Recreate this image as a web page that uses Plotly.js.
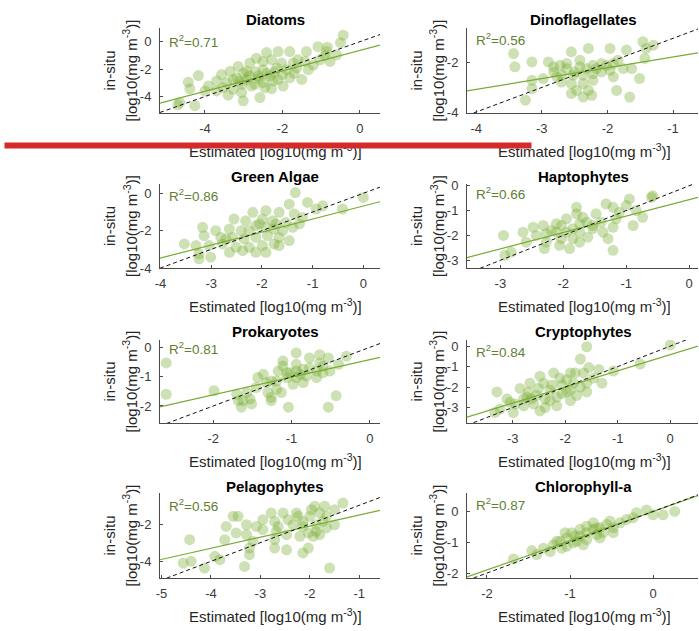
<!DOCTYPE html>
<html><head><meta charset="utf-8">
<script src="https://cdn.plot.ly/plotly-3.0.1.min.js"></script>
<style>html,body{margin:0;padding:0;background:#fff}#chart{width:699px;height:631px}</style>
</head><body><div id="chart"></div>
<script>
// ---------- DATA ----------
const panelNames = ['Diatoms','Dinoflagellates','Green Algae','Haptophytes','Prokaryotes','Cryptophytes','Pelagophytes','Chlorophyll-a'];
const r2Values = ['0.71','0.56','0.86','0.66','0.81','0.84','0.56','0.87'];
const fitSlopes = [0.746, 0.44, 0.696, 0.66, 0.60, 0.79, 0.593, 0.95];
const fitIntercepts = [-0.63, -1.32, -0.68, -0.56, -0.42, -0.42, -0.93, 0.0];

// [estimated, in-situ] pairs, log10(mg m^-3)
const diatoms = [[-0.43,0.48],[-0.5,-0.07],[-0.84,-0.4],[-1.08,-0.36],[-1.38,-0.72],[-1.81,-0.72],[-2.11,-0.72],[-2.41,-0.79],[-1.42,-1.44],[-1.03,-1.32],[-0.86,-0.72],[-0.77,-1.44],[-0.6,-0.96],[-1.72,-1.56],[-2.02,-1.56],[-2.28,-1.32],[-2.67,-1.2],[-2.84,-1.56],[-3.14,-1.8],[-3.35,-2.16],[-2.92,-2.16],[-2.5,-2.04],[-2.15,-1.92],[-1.89,-2.04],[-1.63,-1.92],[-1.33,-2.04],[-2.62,-2.51],[-2.32,-2.51],[-2.11,-2.75],[-1.81,-2.63],[-3.18,-2.63],[-2.92,-2.75],[-3.44,-2.99],[-3.7,-2.87],[-3.91,-3.23],[-4.17,-2.47],[-4.43,-2.95],[-4.39,-3.43],[-4.0,-3.59],[-3.7,-3.59],[-3.53,-3.35],[-3.27,-3.47],[-3.05,-3.71],[-3.01,-4.31],[-2.58,-4.07],[-2.28,-3.43],[-2.45,-3.35],[-1.98,-3.23],[-4.65,-4.43],[-4.26,-4.67],[-2.71,-3.11],[-3.27,-2.75],[-3.57,-2.4],[-2.5,-2.99],[-1.5,-2.75],[-2.5,-1.44],[-3.05,-3.11],[-2.8,-3.23],[-2.24,-2.87],[-3.0,-2.3],[-2.85,-2.5],[-2.7,-2.2],[-2.4,-2.3],[-2.2,-2.2],[-3.1,-2.9],[-2.6,-2.7],[-2.0,-2.4],[-1.2,-1.7],[-1.6,-1.3],[-0.9,-1.0],[-4.7,-4.6],[-3.4,-3.9],[-1.7,-2.3]];
const dinoflagellates = [[-3.43,-1.62],[-3.41,-2.16],[-3.15,-1.96],[-2.9,-1.96],[-2.82,-2.37],[-2.55,-1.55],[-2.29,-1.41],[-1.96,-1.41],[-1.71,-1.48],[-1.46,-1.14],[-1.41,-1.41],[-1.43,-1.82],[-1.84,-1.89],[-1.76,-2.23],[-1.63,-2.23],[-1.51,-2.64],[-1.86,-3.12],[-1.66,-3.39],[-2.22,-2.1],[-2.09,-2.03],[-2.42,-2.16],[-2.62,-2.23],[-2.7,-2.5],[-2.52,-2.5],[-2.37,-2.5],[-2.22,-2.44],[-2.7,-2.78],[-2.55,-2.84],[-2.37,-2.84],[-2.47,-3.12],[-2.29,-3.12],[-2.24,-3.32],[-2.37,-3.39],[-3.15,-3.05],[-3.25,-3.52],[-2.55,-3.25],[-2.09,-2.37],[-1.96,-2.3],[-1.91,-2.03],[-2.82,-2.16],[-2.72,-2.1],[-2.62,-2.03],[-2.42,-1.89],[-2.32,-2.23],[-2.17,-2.23],[-2.01,-2.1],[-2.5,-2.37],[-2.77,-2.57],[-2.98,-2.64],[-3.15,-2.71],[-1.3,-1.28],[-2.22,-2.71],[-1.91,-2.57]];
const greenAlgae = [[-1.34,0.04],[0.0,-0.22],[-1.1,-0.49],[-1.46,-0.58],[-0.93,-0.84],[-0.41,-0.84],[-1.92,-0.93],[-2.18,-1.02],[-1.66,-1.02],[-1.36,-1.11],[-1.2,-1.29],[-2.55,-1.38],[-2.32,-1.47],[-1.99,-1.38],[-1.79,-1.47],[-1.53,-1.56],[-1.26,-1.64],[-3.17,-1.82],[-2.91,-2.0],[-2.64,-1.91],[-2.41,-2.0],[-2.12,-1.73],[-1.92,-1.82],[-1.76,-1.91],[-1.59,-2.0],[-1.39,-1.82],[-3.14,-2.27],[-2.81,-2.36],[-2.58,-2.36],[-2.35,-2.44],[-2.12,-2.36],[-1.89,-2.27],[-1.66,-2.36],[-1.46,-2.53],[-3.53,-2.71],[-3.3,-2.8],[-3.04,-2.8],[-2.78,-2.71],[-2.51,-2.89],[-2.25,-2.89],[-1.99,-2.8],[-1.76,-2.71],[-3.24,-3.24],[-3.01,-3.42],[-2.64,-3.16],[-2.38,-3.07],[-1.92,-3.16],[-2.12,-3.16],[-1.66,-2.8],[-3.24,-3.51],[-0.8,-0.67],[-2.05,-1.64],[-1.72,-1.64],[-2.25,-2.0],[-2.71,-2.44]];
const haptophytes = [[-0.6,-0.47],[-0.95,-0.53],[-1.0,-0.8],[-1.21,-0.87],[-1.32,-0.73],[-0.84,-1.0],[-0.74,-1.27],[-0.89,-1.6],[-1.16,-1.33],[-1.48,-1.13],[-1.63,-1.47],[-1.79,-1.13],[-1.95,-1.33],[-1.74,-1.53],[-1.85,-1.73],[-2.11,-1.53],[-2.32,-1.6],[-2.48,-1.67],[-1.53,-1.73],[-1.37,-1.87],[-1.21,-1.67],[-1.74,-1.87],[-1.95,-1.87],[-2.11,-1.87],[-2.27,-1.93],[-2.43,-2.0],[-2.64,-1.87],[-2.95,-2.0],[-2.03,-2.13],[-1.85,-2.13],[-1.61,-2.07],[-1.29,-2.13],[-2.27,-2.27],[-2.59,-2.27],[-1.9,-2.53],[-2.3,-2.53],[-1.21,-2.6],[-2.93,-2.8],[-2.83,-2.67],[-2.06,-2.4],[-1.74,-2.27],[-1.53,-1.6],[-1.69,-1.27],[-1.4,-1.47],[-1.11,-1.07],[-1.79,-0.87],[-2.03,-1.6],[-2.19,-1.8],[-0.58,-0.4]];
const prokaryotes = [[-2.6,-0.53],[-2.6,-1.6],[-1.99,-1.48],[-1.7,-1.6],[-1.62,-1.82],[-1.51,-1.93],[-1.64,-2.04],[-1.26,-1.82],[-1.04,-2.04],[-0.43,-1.65],[-0.53,-2.04],[-0.3,-0.3],[-0.53,-0.36],[-0.64,-0.53],[-0.77,-0.36],[-0.94,-0.58],[-0.85,-0.75],[-0.68,-0.81],[-0.51,-0.81],[-1.02,-0.87],[-1.17,-0.81],[-1.36,-0.92],[-1.32,-1.2],[-1.45,-1.37],[-1.57,-1.54],[-1.19,-1.15],[-1.06,-1.03],[-0.94,-1.03],[-0.81,-0.98],[-0.68,-1.03],[-1.19,-1.43],[-1.3,-1.54],[-1.13,-1.54],[-1.26,-1.71],[-0.98,-1.26],[-0.85,-1.2],[-1.43,-1.03],[-0.94,-0.81],[-0.6,-0.64],[-0.4,-0.58],[-0.77,-0.7],[-1.11,-0.64],[-1.26,-1.15],[-1.53,-1.76],[-1.68,-1.82],[-1.06,-0.87],[-0.89,-0.92],[-0.6,-0.87],[-0.94,-0.19],[-1.11,-0.47],[-0.64,-0.25]];
const cryptophytes = [[0.0,0.05],[-1.59,-0.03],[-0.57,-0.88],[-1.08,-1.22],[-1.55,-1.05],[-1.36,-1.14],[-1.71,-0.63],[-1.9,-1.31],[-2.22,-1.31],[-2.48,-1.47],[-2.67,-1.81],[-2.86,-2.07],[-3.3,-2.24],[-3.11,-2.58],[-2.95,-2.83],[-2.73,-2.49],[-2.54,-2.41],[-2.29,-2.15],[-2.06,-1.9],[-1.84,-1.81],[-1.59,-1.81],[-1.3,-1.81],[-1.46,-1.56],[-1.71,-2.0],[-1.97,-2.24],[-2.16,-2.49],[-2.38,-2.58],[-2.6,-2.83],[-2.79,-2.92],[-2.99,-3.25],[-3.24,-3.08],[-3.34,-3.25],[-2.38,-3.0],[-2.16,-2.92],[-1.9,-2.66],[-1.78,-2.41],[-2.06,-2.32],[-2.29,-2.66],[-2.51,-2.07],[-2.7,-2.24],[-1.65,-1.31],[-2.1,-1.56],[-1.97,-1.64],[-2.25,-1.9],[-2.41,-1.81],[-2.64,-2.58],[-2.79,-2.58],[-3.05,-2.75],[-1.59,-2.24],[-1.9,-2.15],[-1.81,-1.31],[-2.48,-3.17]];
const pelagophytes = [[-1.33,-0.88],[-1.7,-1.05],[-1.9,-1.05],[-1.5,-1.23],[-2.27,-1.41],[-2.54,-1.41],[-2.78,-1.41],[-3.55,-1.59],[-3.45,-1.59],[-1.8,-1.41],[-1.66,-1.59],[-2.0,-1.59],[-2.44,-1.77],[-2.71,-1.86],[-3.08,-2.13],[-3.28,-2.04],[-3.69,-2.13],[-3.49,-2.48],[-3.28,-2.57],[-2.95,-2.3],[-2.64,-2.13],[-2.34,-2.04],[-2.14,-1.86],[-1.87,-2.04],[-1.66,-2.21],[-1.5,-2.04],[-1.87,-2.39],[-2.03,-2.48],[-2.2,-2.66],[-2.47,-2.57],[-2.71,-2.84],[-3.15,-2.93],[-3.22,-3.29],[-2.71,-3.29],[-2.47,-3.38],[-2.03,-3.29],[-2.14,-3.55],[-3.22,-3.64],[-3.72,-2.84],[-4.43,-2.84],[-3.92,-3.73],[-3.82,-3.91],[-4.56,-4.09],[-4.4,-4.0],[-4.13,-4.36],[-3.32,-4.27],[-1.6,-4.36],[-1.93,-2.66],[-1.73,-1.86],[-2.14,-2.13],[-2.24,-1.59],[-2.95,-1.77],[-2.68,-2.39],[-1.8,-2.57],[-1.97,-1.23]];
const chlorophyllA = [[-1.68,-1.54],[-1.46,-1.27],[-1.32,-1.19],[-1.24,-1.3],[-1.12,-0.97],[-1.04,-0.86],[-0.96,-1.02],[-0.88,-0.8],[-0.8,-0.69],[-0.72,-0.58],[-0.64,-0.53],[-0.56,-0.42],[-0.48,-0.53],[-0.4,-0.37],[-0.32,-0.26],[-0.2,-0.04],[-0.08,0.05],[0.0,-0.11],[0.12,-0.11],[0.26,0.0],[-1.04,-1.13],[-0.92,-0.97],[-0.8,-0.91],[-0.68,-0.75],[-0.84,-1.08],[-0.98,-0.69],[-1.1,-1.19],[-1.2,-1.08],[-0.72,-0.37],[-0.6,-0.69],[-0.48,-0.69],[-0.52,-0.31],[-0.64,-0.86],[-0.8,-0.48],[-1.4,-1.4],[-0.88,-0.58],[-1.16,-0.97],[-0.24,-0.2],[-0.68,-0.53],[-0.94,-0.8],[-1.06,-0.69]];
const panelData = [diatoms, dinoflagellates, greenAlgae, haptophytes, prokaryotes, cryptophytes, pelagophytes, chlorophyllA];

const xTicks = [[-4,-2,0],[-4,-3,-2,-1],[-4,-3,-2,-1,0],[-3,-2,-1,0],[-2,-1,0],[-3,-2,-1,0],[-5,-4,-3,-2,-1],[-2,-1,0]];
const yTicks = [[-4,-2,0],[-4,-2],[-4,-2,0],[-3,-2,-1,0],[-2,-1,0],[-3,-2,-1,0],[-4,-2],[-2,-1,0]];
const xRanges = [[-5.16,0.52],[-4.14,-0.62],[-4.01,0.33],[-3.53,0.14],[-2.68,0.13],[-3.87,0.53],[-5.03,-0.58],[-2.24,0.54]];
const yRanges = [[-5.2,1.0],[-4.04,-0.58],[-4.0,0.5],[-3.31,0.07],[-2.58,0.25],[-3.76,0.3],[-4.89,-0.34],[-2.16,0.6]];

const xLabelText = 'Estimated [log10(mg m<sup>-3</sup>)]';
const yLabelLines = ['in-situ', '[log10(mg m<sup>-3</sup>)]'];

// ---------- LAYOUT ----------
const W = 699, H = 631;
const px = v => v / W, py = v => 1 - v / H;
const FONT = 'Liberation Sans, Arial, Helvetica, sans-serif';
const colPx = [[160,380],[467,698]];
const rowPx = [[28,113],[184,268],[340,423],[493,578]];
const titleX = [275, 583];
const titleY = [20, 176.5, 331, 486];
const labelX = [275, 584];
const r2Y = [41, 38.5, 195, 193, 348, 350.5, 505, 503.5];

const GREEN = 'rgb(119,172,48)';
const traces = [];
const layout = {
  width: W, height: H, margin: {l:0, r:0, t:0, b:0},
  paper_bgcolor: '#fff', plot_bgcolor: 'rgba(0,0,0,0)',
  showlegend: false, annotations: [], font: {family: FONT, color: '#333', size: 14}
};

panelNames.forEach((name, i) => {
  const col = i % 2, row = Math.floor(i / 2);
  const sfx = i === 0 ? '' : String(i + 1);
  const xa = 'x' + sfx, ya = 'y' + sfx;
  const pts = panelData[i];
  const xr = xRanges[i];
  traces.push({
    type: 'scatter', mode: 'markers', xaxis: xa, yaxis: ya,
    x: pts.map(p => p[0]), y: pts.map(p => p[1]),
    marker: {size: 11, color: 'rgba(119,172,48,0.36)', line: {width: 0}},
    hoverinfo: 'skip'
  });
  traces.push({
    type: 'scatter', mode: 'lines', xaxis: xa, yaxis: ya,
    x: xr, y: xr.map(v => fitSlopes[i] * v + fitIntercepts[i]),
    line: {color: GREEN, width: 1.2}, hoverinfo: 'skip'
  });
  traces.push({
    type: 'scatter', mode: 'lines', xaxis: xa, yaxis: ya,
    x: xr, y: xr.slice(),
    line: {color: '#111', width: 1, dash: '4px,3px'}, hoverinfo: 'skip'
  });
  const axCommon = {
    showline: true, linecolor: '#4a4a4a', linewidth: 1,
    ticks: 'inside', ticklen: 3, tickwidth: 1, tickcolor: '#4a4a4a',
    showgrid: false, zeroline: false, mirror: false,
    tickfont: {family: FONT, size: 13, color: '#3a3a3a'}
  };
  layout['xaxis' + sfx] = Object.assign({}, axCommon, {
    anchor: ya, domain: [px(colPx[col][0]), px(colPx[col][1])],
    range: xRanges[i], tickvals: xTicks[i], ticktext: xTicks[i].map(String),
    ticklabelstandoff: 3
  });
  layout['yaxis' + sfx] = Object.assign({}, axCommon, {
    anchor: xa, domain: [py(rowPx[row][1]), py(rowPx[row][0])],
    range: yRanges[i], tickvals: yTicks[i], ticktext: yTicks[i].map(String),
    ticklabelstandoff: 5
  });
  const ax0 = colPx[col][0];
  const yMid = (rowPx[row][0] + rowPx[row][1]) / 2;
  layout.annotations.push(
    {xref:'paper', yref:'paper', x: px(titleX[col]), y: py(titleY[row]), xanchor:'center', yanchor:'middle',
     text: '<b>' + name + '</b>', showarrow:false, font:{family:FONT, size:15, color:'#000'}},
    {xref:'paper', yref:'paper', x: px(labelX[col]), y: py(rowPx[row][1] + 37), xanchor:'center', yanchor:'middle',
     text: xLabelText, showarrow:false, font:{family:FONT, size:15, color:'#262626'}},
    {xref:'paper', yref:'paper', x: px(ax0 - 51), y: py(yMid), xanchor:'center', yanchor:'middle', textangle:-90,
     text: yLabelLines[0], showarrow:false, font:{family:FONT, size:15, color:'#262626'}},
    {xref:'paper', yref:'paper', x: px(ax0 - 30), y: py(yMid), xanchor:'center', yanchor:'middle', textangle:-90,
     text: yLabelLines[1], showarrow:false, font:{family:FONT, size:15, color:'#262626'}},
    {xref:'paper', yref:'paper', x: px(ax0 + 7), y: py(r2Y[i]), xanchor:'left', yanchor:'middle',
     text: 'R<sup>2</sup>=' + r2Values[i], showarrow:false, font:{family:FONT, size:13.5, color:'rgb(96,128,48)'}}
  );
});

// red marker stroke across the top rows (drawn last, above the text)
layout.annotations.push({
  xref:'paper', yref:'paper', x: px(268), y: py(146), xanchor:'center', yanchor:'middle',
  text: ' ', showarrow:false, width: 526, height: 5, borderpad: 0, bgcolor: 'rgb(212,42,42)',
  font: {size: 1}
});

Plotly.newPlot('chart', traces, layout, {staticPlot: true, displayModeBar: false});
</script>
</body></html>
